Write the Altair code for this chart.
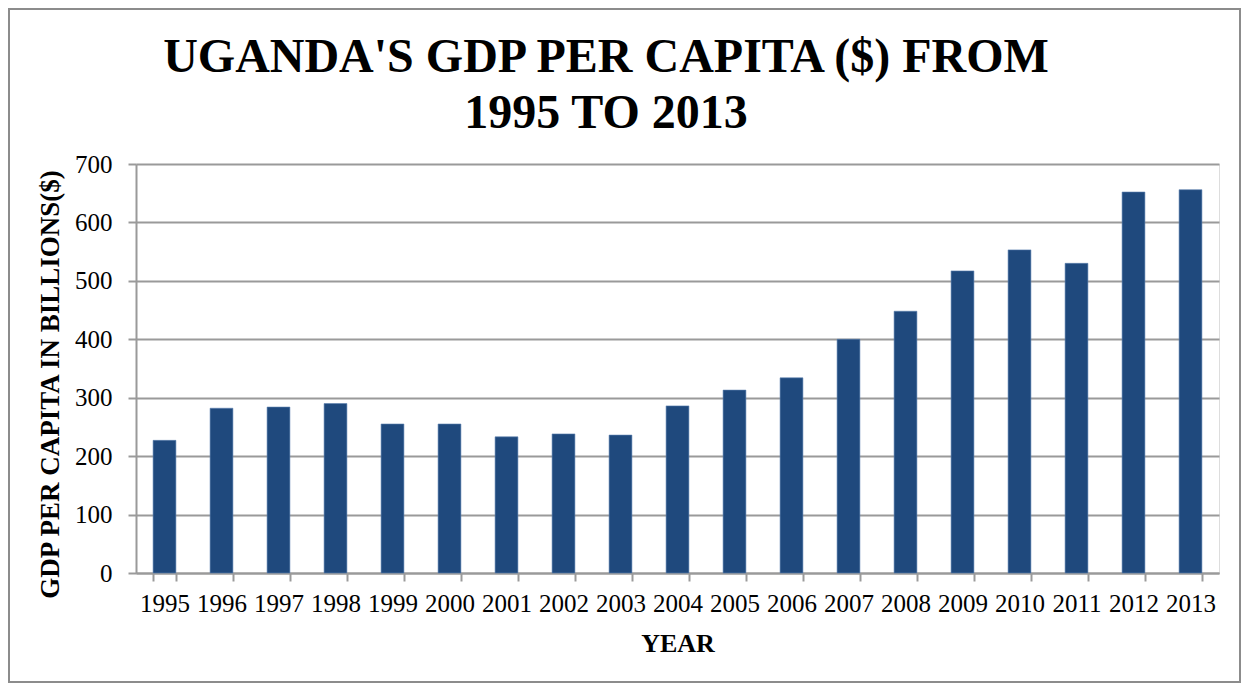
import altair as alt
import pandas as pd

years = ["1995", "1996", "1997", "1998", "1999", "2000", "2001", "2002", "2003", "2004",
         "2005", "2006", "2007", "2008", "2009", "2010", "2011", "2012", "2013"]
gdp = [227, 282, 284, 290, 255, 255, 233, 238, 236, 286,
       313, 334, 400, 448, 517, 553, 530, 652, 656]
y_ticks = [0, 100, 200, 300, 400, 500, 600, 700]
title_lines = ["UGANDA'S GDP PER CAPITA ($) FROM", "1995 TO 2013"]

df = pd.DataFrame({"year": years, "gdp": gdp})

FONT = "Liberation Serif"
GRAY = "#9a9a9a"
W, H = 1083, 409
PL, PT, PR, PB = 128, 156, 22, 110

bars = alt.Chart(df).mark_bar(color="#1F497D", stroke="#5a7fae", strokeWidth=0.6).encode(
    x=alt.X("year:N", sort=years,
            scale=alt.Scale(paddingInner=0.6, paddingOuter=0.3),
            axis=alt.Axis(title="YEAR", labelAngle=0, tickBand="extent", tickSize=8,
                          tickColor=GRAY, tickWidth=2, domainColor=GRAY, domainWidth=2,
                          labelFont=FONT, labelFontSize=25, labelColor="black",
                          labelPadding=10, titleFont=FONT, titleFontSize=26,
                          titleFontWeight="bold", titleColor="black", titlePadding=14)),
    y=alt.Y("gdp:Q", scale=alt.Scale(domain=[0, 700], nice=False),
            axis=alt.Axis(title="GDP PER CAPITA IN BILLIONS($)", values=y_ticks,
                          grid=True, gridColor=GRAY, gridWidth=2, tickSize=8,
                          tickColor=GRAY, tickWidth=2, domainColor=GRAY, domainWidth=2,
                          labelFont=FONT, labelFontSize=25, labelColor="black",
                          labelPadding=16, titleFont=FONT, titleFontSize=27,
                          titleFontWeight="bold", titleColor="black", titlePadding=10,
                          titleY=220)),
)

title = alt.Chart(pd.DataFrame({"a": [0]})).mark_text(
    font=FONT, fontSize=48, fontWeight="bold", color="black",
    align="center", baseline="alphabetic", lineHeight=56,
).encode(
    x=alt.value(470), y=alt.value(-92), text=alt.value(title_lines),
)

frame = alt.Chart(pd.DataFrame({"a": [0]})).mark_rect(
    fill=None, stroke="#8c8c8c", strokeWidth=2
).encode(
    x=alt.value(-PL + 1), x2=alt.value(W + PR - 1),
    y=alt.value(-PT + 1), y2=alt.value(H + PB - 1),
)

chart = alt.layer(bars, title, frame).properties(
    width=W, height=H,
    autosize=alt.AutoSizeParams(type="none"),
    padding={"left": PL, "top": PT, "right": PR, "bottom": PB},
).configure_view(stroke=None).configure(background="white")

chart.save("out.html", embed_options={"renderer": "svg", "actions": False})
